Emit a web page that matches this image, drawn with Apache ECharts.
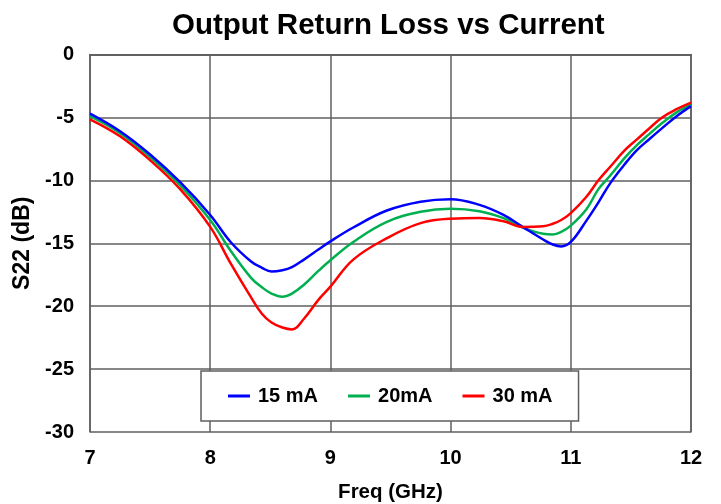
<!DOCTYPE html>
<html>
<head>
<meta charset="utf-8">
<script src="https://cdn.jsdelivr.net/npm/echarts@6/dist/echarts.min.js"></script>
<style>html,body{margin:0;padding:0;background:#fff}#c{width:721px;height:504px}</style>
</head>
<body>
<div id="c"></div>
<script>
const freq = [7.0, 7.25, 7.5, 7.75, 8.0, 8.17, 8.34, 8.43, 8.51, 8.6, 8.68, 8.78, 8.9, 9.0, 9.19, 9.47, 9.75, 10.0, 10.24, 10.44, 10.6, 10.77, 10.85, 10.92, 11.0, 11.13, 11.23, 11.33, 11.45, 11.55, 11.65, 11.76, 11.88, 12.0];
const s15 = [-4.7, -6.1, -7.95, -10.15, -12.75, -14.9, -16.45, -16.95, -17.25, -17.15, -16.9, -16.3, -15.5, -14.85, -13.75, -12.4, -11.7, -11.5, -11.95, -12.75, -13.7, -14.7, -15.1, -15.25, -14.9, -13.2, -11.75, -10.2, -8.7, -7.6, -6.75, -5.85, -4.9, -4.1];
const s20 = [-4.9, -6.25, -8.15, -10.4, -13.15, -15.6, -17.75, -18.5, -19.0, -19.25, -19.0, -18.3, -17.2, -16.35, -14.9, -13.3, -12.5, -12.25, -12.45, -13.0, -13.75, -14.25, -14.3, -14.1, -13.6, -12.3, -10.7, -9.6, -8.2, -7.2, -6.35, -5.45, -4.6, -3.97];
const s30 = [-5.15, -6.5, -8.4, -10.7, -13.7, -16.6, -19.3, -20.6, -21.3, -21.7, -21.85, -21.0, -19.5, -18.45, -16.3, -14.6, -13.4, -13.05, -13.0, -13.25, -13.7, -13.65, -13.45, -13.15, -12.6, -11.3, -10.0, -8.9, -7.6, -6.75, -5.9, -5.0, -4.35, -3.83];
const seriesNames = ['15 mA', '20mA', '30 mA'];
const xTicks = [7, 8, 9, 10, 11, 12];
const yTicks = [0, -5, -10, -15, -20, -25, -30];

const FONT = 'Arial, "Liberation Sans", sans-serif';
const pairs = v => freq.map((f, i) => [f, v[i]]);
const chart = echarts.init(document.getElementById('c'));
const gridColor = '#5f5f5f';
const colors = ['#0000ff', '#00b050', '#ff0000'];
const data = [s15, s20, s30];
const xMin = xTicks[0], xMax = xTicks[xTicks.length - 1];
const yMin = yTicks[yTicks.length - 1], yMax = yTicks[0];
const borderAxis = { show: true, lineStyle: { color: gridColor, width: 1.5 } };
chart.setOption({
  animation: false,
  backgroundColor: '#fff',
  title: {
    text: 'Output Return Loss vs Current',
    left: 167, top: 6,
    textStyle: { fontFamily: FONT, fontWeight: 'bold', fontSize: 29.5, color: '#000' }
  },
  grid: { left: 90, right: 30, top: 54.5, bottom: 72, containLabel: false, outerBoundsMode: 'none' },
  legend: {
    left: 201, top: 371,
    padding: [15, 26, 15, 27],
    itemGap: 30,
    itemWidth: 22, itemHeight: 3,
    icon: 'rect',
    backgroundColor: '#fff',
    borderColor: gridColor, borderWidth: 1.5,
    data: seriesNames,
    textStyle: { fontFamily: FONT, fontWeight: 'bold', fontSize: 20, color: '#000', padding: [0, 0, 0, 3] }
  },
  xAxis: [{
    type: 'value', min: xMin, max: xMax, interval: 1,
    name: 'Freq (GHz)', nameLocation: 'middle', nameGap: 50,
    nameTextStyle: { fontFamily: FONT, fontWeight: 'bold', fontSize: 20.5, color: '#000' },
    axisLine: borderAxis,
    axisTick: { show: false },
    axisLabel: { margin: 16, fontFamily: FONT, fontWeight: 'bold', fontSize: 20, color: '#000' },
    splitLine: { show: true, lineStyle: { color: gridColor, width: 1.5 } }
  }, {
    type: 'value', position: 'top', min: xMin, max: xMax, interval: 1,
    axisLine: borderAxis, axisTick: { show: false }, axisLabel: { show: false }, splitLine: { show: false }
  }],
  yAxis: [{
    type: 'value', min: yMin, max: yMax, interval: 5,
    name: 'S22 (dB)', nameLocation: 'middle', nameGap: 55,
    nameTextStyle: { fontFamily: FONT, fontWeight: 'bold', fontSize: 23, color: '#000' },
    axisLine: borderAxis,
    axisTick: { show: false },
    axisLabel: { margin: 16, fontFamily: FONT, fontWeight: 'bold', fontSize: 20, color: '#000' },
    splitLine: { show: true, lineStyle: { color: gridColor, width: 1.5 } }
  }, {
    type: 'value', position: 'right', min: yMin, max: yMax, interval: 5,
    axisLine: borderAxis, axisTick: { show: false }, axisLabel: { show: false }, splitLine: { show: false }
  }],
  series: seriesNames.map((n, i) => ({
    name: n, type: 'line', smooth: 0.4, showSymbol: false, data: pairs(data[i]),
    xAxisIndex: 0, yAxisIndex: 0,
    lineStyle: { color: colors[i], width: 2.5 }, itemStyle: { color: colors[i] }, z: [4, 3, 5][i]
  }))
});
</script>
</body>
</html>
